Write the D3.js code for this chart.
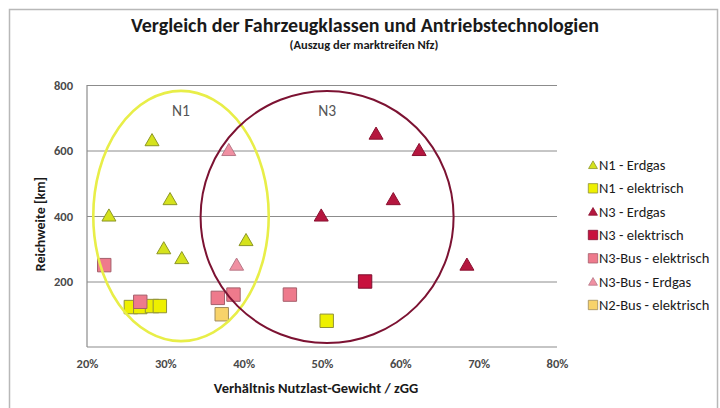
<!DOCTYPE html>
<html><head><meta charset="utf-8">
<script src="https://cdn.jsdelivr.net/npm/d3@7"></script>
<style>
html,body{margin:0;padding:0;background:#fff;}
svg{display:block;font-family:Carlito,Lato,"Open Sans",sans-serif;}
</style></head>
<body><svg id="chart" width="720" height="408"></svg>
<script>
// ---- data ----
const seriesNames = ["N1 - Erdgas","N1 - elektrisch","N3 - Erdgas","N3 - elektrisch","N3-Bus - elektrisch","N3-Bus - Erdgas","N2-Bus - elektrisch"];
const seriesShapes = ["triangle","square","triangle","square","square","triangle","square"];
const n1ErdgasX = [22.8, 28.3, 30.6, 29.8, 32.1, 40.3];
const n1ErdgasY = [400, 630, 450, 300, 270, 325];
const n1ElektrischX = [25.6, 26.8, 28.3, 29.3, 50.6];
const n1ElektrischY = [122, 122, 125, 125, 80];
const n3ErdgasX = [56.9, 62.4, 59.1, 49.9, 68.5];
const n3ErdgasY = [650, 600, 450, 400, 250];
const n3ElektrischX = [55.5];
const n3ElektrischY = [200];
const n3BusElektrischX = [22.2, 26.8, 36.7, 38.7, 45.9];
const n3BusElektrischY = [250, 138, 150, 160, 160];
const n3BusErdgasX = [38.1, 39.1];
const n3BusErdgasY = [600, 250];
const n2BusElektrischX = [37.2];
const n2BusElektrischY = [100];
const xTicks = [20, 30, 40, 50, 60, 70, 80];
const yTicks = [200, 400, 600, 800];
// group annotations (data units): centre x %, centre y km, radius x %, radius y km
const groupLabels = ["N1", "N3"];
const groupCx = [32.0, 50.65];
const groupCy = [400, 397];
const groupRx = [11.2, 16.15];
const groupRy = [382, 385];

// ---- styles ----
const fills = ["#d5e21c","#eef000","#b5173f","#c8123e","#ee7a8c","#f090a2","#f8d36a"];
const strokes = ["#8c9626","#8f9138","#8a1030","#7e1030","#a4606c","#b87888","#a08c5c"];
const groupColors = ["#e8ee48", "#7c1232"];

const svg = d3.select("#chart");
const plot = {left: 87, right: 557, top: 85, bottom: 347};
const x = d3.scaleLinear().domain([20, 80]).range([plot.left, plot.right]);
const y = d3.scaleLinear().domain([0, 800]).range([plot.bottom, plot.top]);

// outer border
svg.append("rect").attr("x", 9.5).attr("y", 9.5).attr("width", 708).attr("height", 410)
  .attr("fill", "#fff").attr("stroke", "#b8b8b8").attr("stroke-width", 1.5);

// title
svg.append("text").attr("x", 365).attr("y", 32).attr("text-anchor", "middle")
  .attr("font-size", 20).attr("font-weight", "bold").attr("fill", "#1a1a1a")
  .text("Vergleich der Fahrzeugklassen und Antriebstechnologien");
svg.append("text").attr("x", 364).attr("y", 49).attr("text-anchor", "middle")
  .attr("font-size", 12.5).attr("font-weight", "bold").attr("fill", "#1a1a1a")
  .text("(Auszug der marktreifen Nfz)");

// gridlines
const yAxis = d3.axisLeft(y).tickValues(yTicks).tickSize(-(plot.right - plot.left)).tickPadding(14).tickFormat(d3.format("d"));
const gy = svg.append("g").attr("transform", `translate(${plot.left},0)`).call(yAxis);
gy.select(".domain").remove();
gy.selectAll(".tick line").attr("stroke", "#8c8c8c").attr("stroke-width", 1);
gy.selectAll(".tick text").attr("font-size", 12.5).attr("font-weight", "bold").attr("fill", "#4a4a4a")
  .attr("font-family", "Carlito,Lato,sans-serif");

const xAxis = d3.axisBottom(x).tickValues(xTicks).tickSize(0).tickPadding(12).tickFormat(d => d + "%");
const gx = svg.append("g").attr("transform", `translate(0,${plot.bottom})`).call(xAxis);
gx.select(".domain").remove();
gx.selectAll(".tick text").attr("font-size", 12.5).attr("font-weight", "bold").attr("fill", "#4a4a4a")
  .attr("font-family", "Carlito,Lato,sans-serif");

// axis lines
svg.append("line").attr("x1", plot.left).attr("x2", plot.right).attr("y1", y(0)).attr("y2", y(0))
  .attr("stroke", "#8c8c8c").attr("stroke-width", 1.2);
svg.append("line").attr("x1", plot.left).attr("x2", plot.left).attr("y1", y(800)).attr("y2", y(0))
  .attr("stroke", "#8c8c8c").attr("stroke-width", 1.2);

// axis titles
svg.append("text").attr("transform", `translate(45,${(plot.top + plot.bottom) / 2 + 8}) rotate(-90)`)
  .attr("text-anchor", "middle").attr("font-size", 14).attr("font-weight", "bold").attr("fill", "#1a1a1a")
  .text("Reichweite [km]");
svg.append("text").attr("x", 316).attr("y", 393).attr("text-anchor", "middle")
  .attr("font-size", 14.5).attr("font-weight", "bold").attr("fill", "#1a1a1a")
  .text("Verhältnis Nutzlast-Gewicht / zGG");

// markers
const seriesX = [n1ErdgasX, n1ElektrischX, n3ErdgasX, n3ElektrischX, n3BusElektrischX, n3BusErdgasX, n2BusElektrischX];
const seriesY = [n1ErdgasY, n1ElektrischY, n3ErdgasY, n3ElektrischY, n3BusElektrischY, n3BusErdgasY, n2BusElektrischY];
const triSym = d3.symbol().type(d3.symbolTriangle).size(85);
const sqSym = d3.symbol().type(d3.symbolSquare).size(180);
const triLeg = d3.symbol().type(d3.symbolTriangle).size(34);
const sqLeg = d3.symbol().type(d3.symbolSquare).size(88);

seriesNames.forEach((name, i) => {
  const pts = seriesX[i].map((v, j) => ({x: v, y: seriesY[i][j]}));
  svg.append("g").selectAll("path").data(pts).join("path")
    .attr("transform", d => `translate(${x(d.x)},${y(d.y) + (seriesShapes[i] === "triangle" ? 1 : 0)})`)
    .attr("d", seriesShapes[i] === "triangle" ? triSym() : sqSym())
    .attr("fill", fills[i]).attr("stroke", strokes[i]).attr("stroke-width", 1);
});

// group ellipses
groupLabels.forEach((lab, i) => {
  const cx = x(groupCx[i]), cy = y(groupCy[i]);
  svg.append("ellipse").attr("cx", cx).attr("cy", cy)
    .attr("rx", x(groupCx[i] + groupRx[i]) - cx).attr("ry", cy - y(groupCy[i] + groupRy[i]))
    .attr("fill", "none").attr("stroke", groupColors[i]).attr("stroke-width", i === 0 ? 2.6 : 2);
  svg.append("text").attr("x", cx).attr("y", y(groupCy[i] + groupRy[i]) + 25)
    .attr("text-anchor", "middle").attr("font-size", 15.5).attr("fill", "#555")
    .text(lab);
});

// legend
const leg = svg.append("g").attr("transform", "translate(593,165)");
seriesNames.forEach((name, i) => {
  const g = leg.append("g").attr("transform", `translate(0,${i * 23.33})`);
  g.append("path").attr("d", seriesShapes[i] === "triangle" ? triLeg() : sqLeg())
    .attr("transform", seriesShapes[i] === "triangle" ? "translate(0,1)" : null)
    .attr("fill", fills[i]).attr("stroke", strokes[i]).attr("stroke-width", 0.8);
  g.append("text").attr("x", 6).attr("y", 5).attr("font-size", 14.5).attr("fill", "#1a1a1a")
    .text(name);
});
</script></body></html>
